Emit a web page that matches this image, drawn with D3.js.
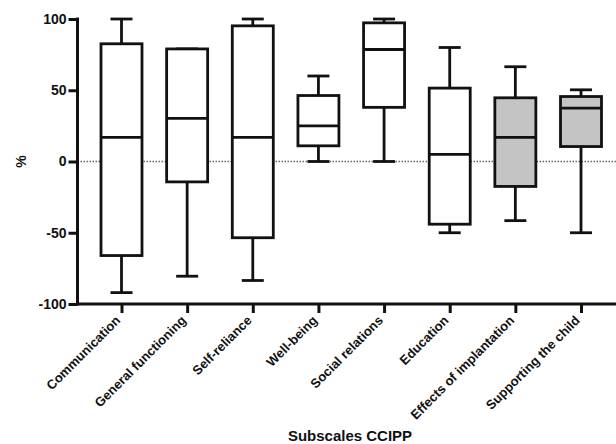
<!DOCTYPE html>
<html>
<head>
<meta charset="utf-8">
<script src="https://cdn.jsdelivr.net/npm/d3@7"></script>
<style>
  body { margin: 0; background: #fff; }
  text { font-family: "Liberation Sans", Arial, sans-serif; font-weight: bold; fill: #111; }
</style>
</head>
<body>
<div id="main"></div>
<script>
const WIDTH = 616, HEIGHT = 444;

// subscales and their box statistics
const categories = ["Communication", "General functioning", "Self-reliance", "Well-being",
                    "Social relations", "Education", "Effects of implantation", "Supporting the child"];
const minVals    = [-92, -80.5, -83.5,  0,    0,   -50,  -41.5, -50];
const q1Vals     = [-66, -14.3, -53.5, 11,   38,   -44,  -17.5, 10.5];
const medianVals = [ 17,  30.2,  17,   25,   78.6,   5,   17,   37.5];
const q3Vals     = [ 82.6, 79,   95.2, 46.3, 97.3,  51.5, 44.7, 45.6];
const maxVals    = [100,  79,  100,   60,  100,    80,   66.5, 50.3];
const shaded     = [false, false, false, false, false, false, true, true];
const yTicks = [-100, -50, 0, 50, 100];

const boxes = categories.map((c, i) => ({
    name: c, min: minVals[i], q1: q1Vals[i], med: medianVals[i],
    q3: q3Vals[i], max: maxVals[i], grey: shaded[i]
}));

const svg = d3.select("#main").append("svg")
    .attr("width", WIDTH).attr("height", HEIGHT);

const y = d3.scaleLinear().domain([-100, 100]).range([304, 19]);
const x = d3.scalePoint().domain(categories).range([121.5, 581]);
const axisX = 77.5;
const boxW = 41, capW = 22;

// zero reference line
svg.append("line")
    .attr("x1", axisX).attr("x2", WIDTH)
    .attr("y1", y(0)).attr("y2", y(0))
    .attr("stroke", "#666").attr("stroke-width", 1.3)
    .attr("stroke-dasharray", "1.5,1.5");

// boxes
const g = svg.append("g").selectAll("g").data(boxes).enter().append("g")
    .attr("stroke", "#111").attr("stroke-width", 2.8);

g.append("line")
    .attr("x1", d => x(d.name)).attr("x2", d => x(d.name))
    .attr("y1", d => y(d.max)).attr("y2", d => y(d.q3));
g.append("line")
    .attr("x1", d => x(d.name)).attr("x2", d => x(d.name))
    .attr("y1", d => y(d.q1)).attr("y2", d => y(d.min));
g.append("line")
    .attr("x1", d => x(d.name) - capW/2).attr("x2", d => x(d.name) + capW/2)
    .attr("y1", d => y(d.max)).attr("y2", d => y(d.max));
g.append("line")
    .attr("x1", d => x(d.name) - capW/2).attr("x2", d => x(d.name) + capW/2)
    .attr("y1", d => y(d.min)).attr("y2", d => y(d.min));
g.append("rect")
    .attr("x", d => x(d.name) - boxW/2).attr("width", boxW)
    .attr("y", d => y(d.q3)).attr("height", d => y(d.q1) - y(d.q3))
    .attr("fill", d => d.grey ? "#c4c4c4" : "#fff");
g.append("line")
    .attr("x1", d => x(d.name) - boxW/2).attr("x2", d => x(d.name) + boxW/2)
    .attr("y1", d => y(d.med)).attr("y2", d => y(d.med));

// y axis
const yAxis = svg.append("g")
    .attr("transform", `translate(${axisX},0)`)
    .call(d3.axisLeft(y).tickValues(yTicks).tickFormat(d => String(d))
            .tickSize(9).tickSizeOuter(0).tickPadding(2));
yAxis.selectAll("path, line").attr("stroke", "#111").attr("stroke-width", 3);
yAxis.selectAll("text").style("font-size", "14px").style("font-family", "'Liberation Sans', Arial, sans-serif")
    .style("font-weight", "bold").attr("fill", "#111");
yAxis.select(".domain").attr("d", `M0,${y(100) - 1.5}V${y(-100) + 1.5}`);

// x axis
const xAxis = svg.append("g")
    .attr("transform", `translate(0,${y(-100)})`)
    .call(d3.axisBottom(x).tickSize(9).tickSizeOuter(0).tickPadding(4));
xAxis.select(".domain").attr("d", `M${axisX},0H${WIDTH}`);
xAxis.selectAll("path, line").attr("stroke", "#111").attr("stroke-width", 3);
xAxis.selectAll("text")
    .style("font-size", "13px").style("font-family", "'Liberation Sans', Arial, sans-serif")
    .style("font-weight", "bold").attr("fill", "#111")
    .attr("text-anchor", "end")
    .attr("dy", "0.35em")
    .attr("transform", "translate(-4,14) rotate(-45)")
    .attr("y", 0).attr("x", 0);

// axis titles
svg.append("text")
    .attr("transform", `translate(26,${y(0)}) rotate(-90)`)
    .attr("text-anchor", "middle")
    .style("font-size", "14px")
    .text("%");
svg.append("text")
    .attr("x", 350).attr("y", 441)
    .attr("text-anchor", "middle")
    .style("font-size", "15px")
    .text("Subscales CCIPP");
</script>
</body>
</html>
